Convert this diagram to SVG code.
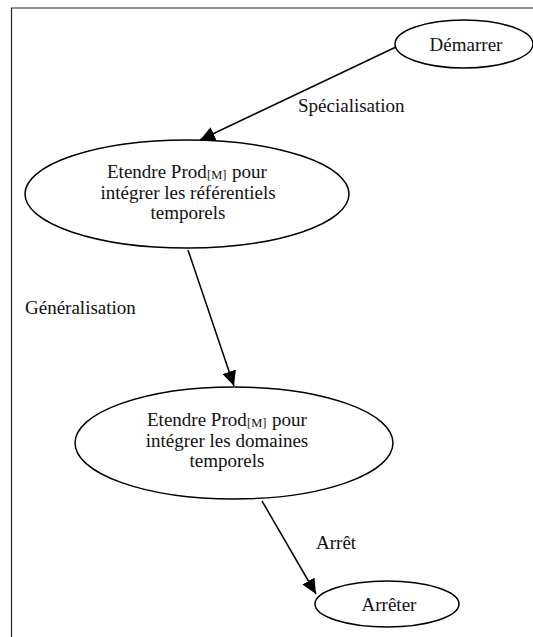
<svg xmlns="http://www.w3.org/2000/svg" width="533" height="637" viewBox="0 0 533 637">
<style>
.n{fill:#fff;stroke:#000;stroke-width:1.5}
.t{font-family:"Liberation Serif","Times New Roman",serif;font-size:19px;fill:#111}
.s{font-size:12.5px}
.e{stroke:#000;stroke-width:1.5;fill:none;marker-end:url(#a)}
</style>
<defs>
<marker id="a" viewBox="0 0 15 14" refX="15" refY="7" markerWidth="15" markerHeight="14" markerUnits="userSpaceOnUse" orient="auto">
<path d="M0,0L15,7L0,14z" fill="#000"/>
</marker>
</defs>
<rect width="533" height="637" fill="#fff"/>
<path d="M11.5,637V8H533" fill="none" stroke="#222" stroke-width="1.2"/>
<g id="edges">
<line class="e" x1="396" y1="47" x2="200" y2="140"/>
<line class="e" x1="188" y1="250" x2="234" y2="386"/>
<line class="e" x1="262" y1="501" x2="316" y2="594"/>
<text class="t" x="298" y="112">Spécialisation</text>
<text class="t" x="25" y="314">Généralisation</text>
<text class="t" x="316" y="549">Arrêt</text>
</g>
<g id="demarrer">
<ellipse class="n" cx="464" cy="44" rx="69" ry="24"/>
<text class="t" x="466" y="51" text-anchor="middle">Démarrer</text>
</g>
<g id="etendre1">
<ellipse class="n" cx="187" cy="194" rx="162" ry="54"/>
<text class="t" x="107" y="178">Etendre Prod</text>
<text class="t s" x="207" y="179">[M]</text>
<text class="t" x="232" y="178">pour</text>
<text class="t" x="188" y="199" text-anchor="middle">intégrer les référentiels</text>
<text class="t" x="188" y="219" text-anchor="middle">temporels</text>
</g>
<g id="etendre2">
<ellipse class="n" cx="234" cy="443" rx="159" ry="56"/>
<text class="t" x="147" y="426">Etendre Prod</text>
<text class="t s" x="247" y="427">[M]</text>
<text class="t" x="272" y="426">pour</text>
<text class="t" x="227" y="447" text-anchor="middle">intégrer les domaines</text>
<text class="t" x="227" y="467" text-anchor="middle">temporels</text>
</g>
<g id="arreter">
<ellipse class="n" cx="387" cy="604" rx="72" ry="23"/>
<text class="t" x="389" y="611" text-anchor="middle">Arrêter</text>
</g>
</svg>
